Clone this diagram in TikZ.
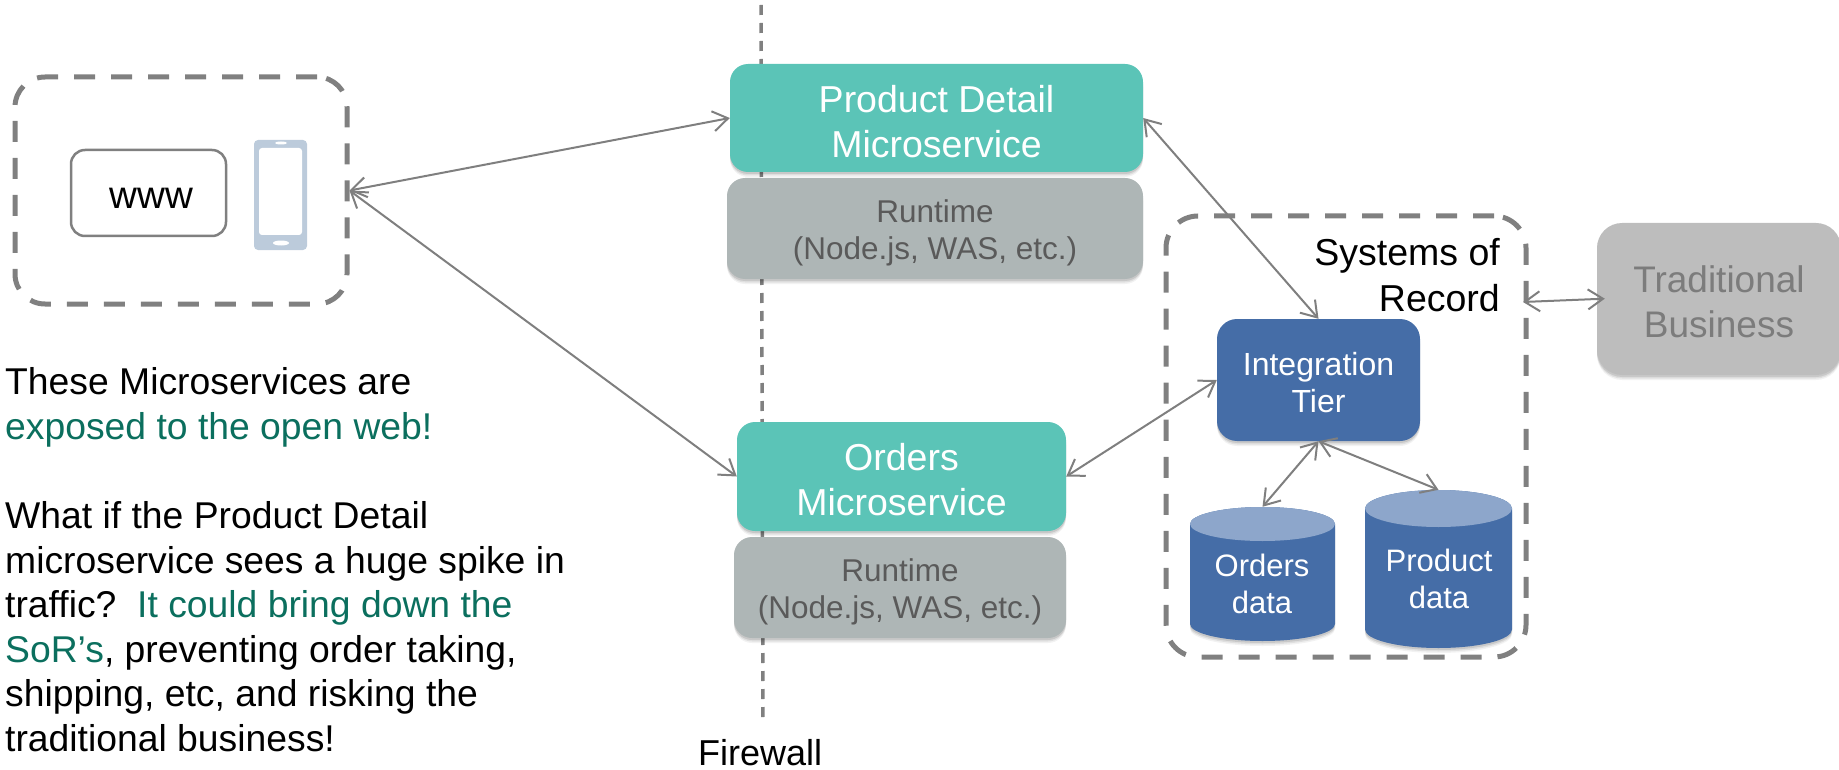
\documentclass[tikz,border=0pt]{standalone}
\usepackage{fontspec}
\setmainfont{Liberation Sans}
\usetikzlibrary{arrows.meta,shadows}
\definecolor{dashgray}{HTML}{808080}
\definecolor{teal1}{HTML}{5BC4B7}
\definecolor{rungray}{HTML}{AEB6B6}
\definecolor{runtext}{HTML}{5A5A5A}
\definecolor{blue1}{HTML}{456DA7}
\definecolor{blue2}{HTML}{8DA6CB}
\definecolor{phoneblue}{HTML}{BCCBDB}
\definecolor{tradgray}{HTML}{BDBDBD}
\definecolor{tradtext}{HTML}{7C7C7C}
\definecolor{green1}{HTML}{0B6F5E}
\definecolor{arrowgray}{HTML}{7F7F7F}
% pushes a centred block of lines down by #1 (extra height above the first line)
\newcommand{\pushdown}[1]{\rule{0pt}{\dimexpr .73em+2\dimexpr #1\relax\relax}}
\tikzset{
  softshadow/.style={
    general shadow={shadow yshift=-5pt,fill=black,opacity=.05},
    general shadow={shadow yshift=-3.5pt,fill=black,opacity=.08},
    general shadow={shadow yshift=-2pt,fill=black,opacity=.10}},
  dashbox/.style={draw=dashgray,line width=5pt,dash pattern=on 21pt off 16pt,rounded corners=30pt,inner sep=0pt},
  svcbox/.style={fill=teal1,text=white,rounded corners=18pt,inner sep=0pt,align=center,softshadow,font=\fontsize{37.5}{45}\selectfont},
  runbox/.style={fill=rungray,text=runtext,rounded corners=18pt,inner sep=0pt,align=center,softshadow,font=\fontsize{31.5}{37}\selectfont},
  tierbox/.style={fill=blue1,text=white,rounded corners=20pt,inner sep=0pt,align=center,softshadow,font=\fontsize{32}{37}\selectfont},
  tradbox/.style={fill=tradgray,text=tradtext,rounded corners=25pt,inner sep=0pt,align=center,softshadow,font=\fontsize{37}{45}\selectfont},
  dbanchor/.style={inner sep=0pt,minimum width=145pt},
  dblabel/.style={text=white,align=center,inner sep=0pt,font=\fontsize{31}{37}\selectfont},
  link/.style={draw=arrowgray,line width=2pt,{Straight Barb[length=15pt,width=20pt,line width=2pt]}-{Straight Barb[length=15pt,width=20pt,line width=2pt]}},
  plain/.style={inner sep=0pt,align=left,font=\fontsize{37.3}{44.6}\selectfont}
}
\begin{document}
\begin{tikzpicture}[x=1pt,y=-1pt]
\useasboundingbox (0,0) rectangle (1839,770);
% firewall
\coordinate (fwtop) at (761,5);
\coordinate (fwbot) at (763,722);
\draw[dashgray,line width=3.5pt,dash pattern=on 10pt off 8pt] (fwtop) -- (fwbot);
\node[inner sep=0pt,anchor=base west,font=\fontsize{36}{44}\selectfont] (fwlabel) at (698,765) {Firewall};
% client
\node[dashbox,minimum width=332pt,minimum height=227pt] (client) at (181,190.5) {};
\node[draw=dashgray,line width=2.5pt,rounded corners=14pt,minimum width=155pt,minimum height=86pt,inner sep=0pt,text height=32pt,text depth=0pt,font=\fontsize{38.5}{44}\selectfont] (www) at (148.5,193) {\hspace*{6pt}www};
\node[fill=phoneblue,rounded corners=4pt,minimum width=53pt,minimum height=110pt,inner sep=0pt] (phone) at (280.5,195) {};
\node[fill=white,rounded corners=3pt,minimum width=43pt,minimum height=87pt,inner sep=0pt] (screen) at (280.5,191.5) {};
\fill[white] (281,143) ellipse [x radius=6,y radius=1.5];
\fill[white] (281,243) ellipse [x radius=8,y radius=2.5];
% services
\node[svcbox,minimum width=413pt,minimum height=108pt] (pd) at (936.5,118) {\pushdown{3.5pt}Product Detail\\Microservice};
\node[runbox,minimum width=416pt,minimum height=101pt] (pdrun) at (935,228.5) {\pushdown{4.5pt}Runtime\\(Node.js, WAS, etc.)};
\node[svcbox,minimum width=329pt,minimum height=109pt] (orders) at (901.5,476.5) {\pushdown{3pt}Orders\\Microservice};
\node[runbox,minimum width=332pt,minimum height=101pt] (ordrun) at (900,587.5) {\pushdown{4.5pt}Runtime\\(Node.js, WAS, etc.)};
% systems of record
\node[dashbox,minimum width=360pt,minimum height=441pt,rounded corners=32pt] (sor) at (1346,436.5) {};
\node[inner sep=0pt,align=right,anchor=base east,font=\fontsize{37.5}{46}\selectfont] (sorlabel) at (1500,311) {Systems of\\Record};
\node[tierbox,minimum width=203pt,minimum height=122pt] (int) at (1318.5,380) {\pushdown{2.3pt}Integration\\Tier};
% cylinders
\fill[blue1,softshadow] (1190,524) arc[start angle=180,end angle=360,x radius=72.5,y radius=17] -- (1335,624) arc[start angle=0,end angle=180,x radius=72.5,y radius=17] -- cycle;
\fill[blue2] (1262.5,524) ellipse [x radius=72.5,y radius=17];
\node[dbanchor,minimum height=134pt] (ordersdb) at (1262.5,574) {};
\node[dblabel] (orderstext) at (1262,584) {Orders\\data};
\fill[blue1,softshadow] (1365,508.5) arc[start angle=180,end angle=360,x radius=73.5,y radius=18.5] -- (1512,629.5) arc[start angle=0,end angle=180,x radius=73.5,y radius=18.5] -- cycle;
\fill[blue2] (1438.5,508.5) ellipse [x radius=73.5,y radius=18.5];
\node[dbanchor,minimum height=158pt] (productdb) at (1438.5,569) {};
\node[dblabel] (producttext) at (1439,579) {Product\\data};
% traditional
\node[tradbox,minimum width=244pt,minimum height=152pt] (trad) at (1719,299) {\pushdown{3pt}Traditional\\Business};
% text
\node[plain,anchor=north west] (note) at (5,367.5) {These Microservices are\\\textcolor{green1}{exposed to the open web!}\\[44.6pt]What if the Product Detail\\microservice sees a huge spike in\\traffic?\ \ \textcolor{green1}{It could bring down the}\\\textcolor{green1}{SoR’s}, preventing order taking,\\shipping, etc, and risking the\\traditional business!};
% connectors
\coordinate (sorport) at (1523,302);
\draw[link] (client.east) -- (pd.west);
\draw[link] (client.east) -- (orders.west);
\draw[link] (pd.east) -- (int.north);
\draw[link] (orders.east) -- (int.west);
\draw[link] (int.south) -- (ordersdb.north);
\draw[link] (int.south) -- (productdb.north);
\draw[link,shorten >=-8pt] (sorport) -- (trad.west);
\end{tikzpicture}
\end{document}
